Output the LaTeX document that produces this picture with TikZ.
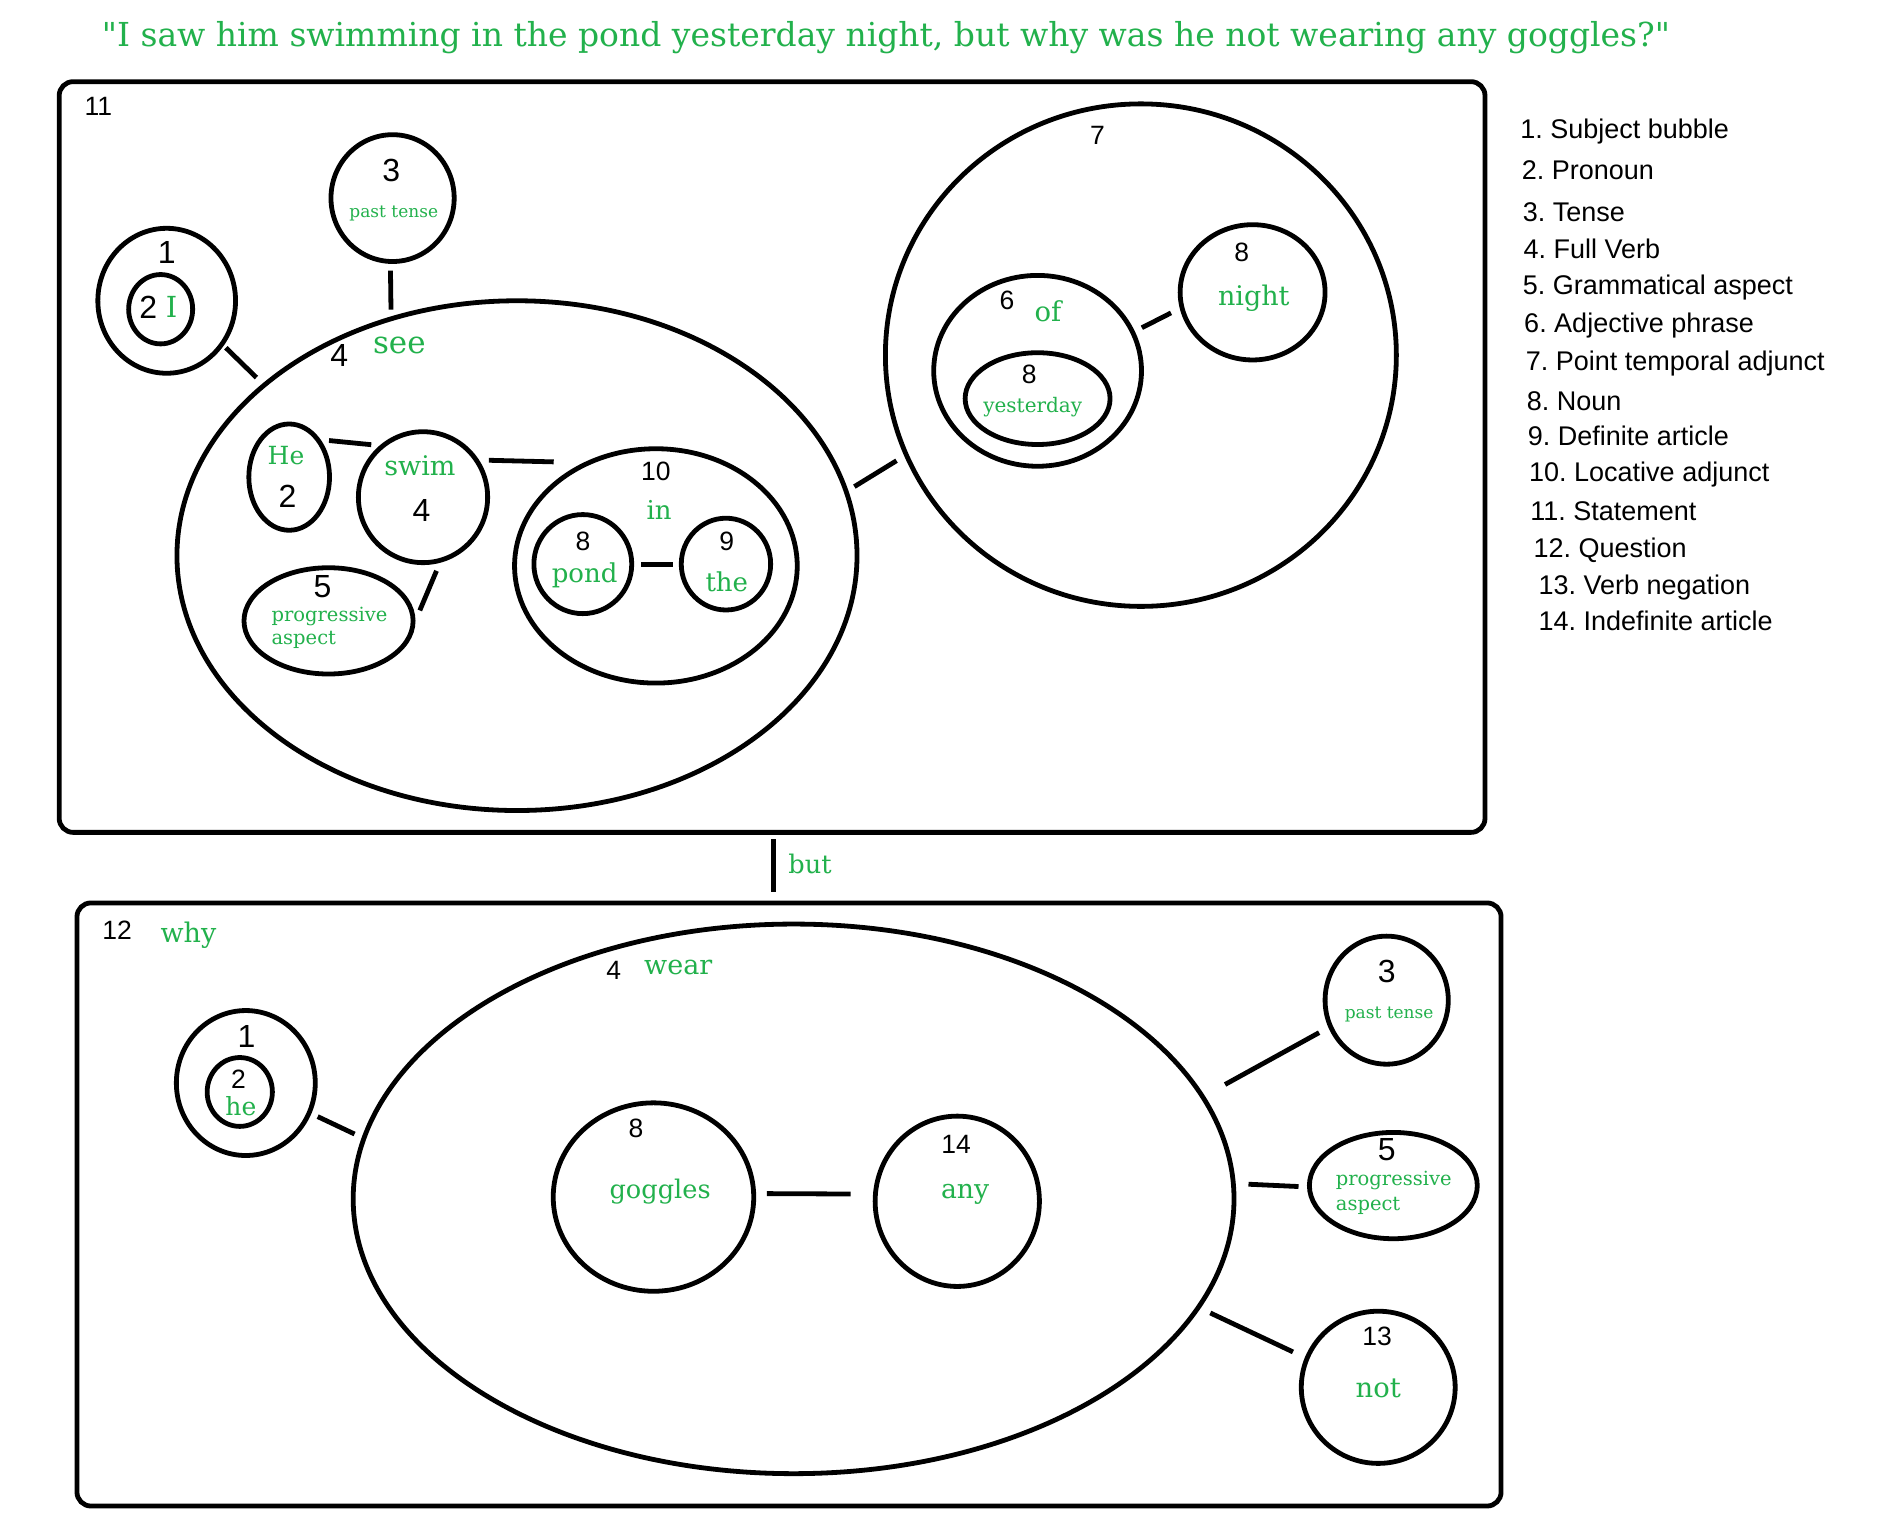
\documentclass[tikz,border=0pt]{standalone}
\usepackage{fontspec}
\setmainfont{DejaVu Serif}
\newfontfamily\plainserif[Ligatures=TeXOff]{DejaVu Serif}
\newfontfamily\af{Liberation Sans}
\usetikzlibrary{shapes.geometric}
\definecolor{pgreen}{RGB}{34,177,76}
\frenchspacing
\tikzset{
  bub/.style 2 args={draw, ellipse, line width=4.8pt, inner sep=0pt, outer sep=0pt, minimum width={#1*2.4158pt}, minimum height={#2*2.4158pt}},
  boxframe/.style 2 args={draw, rectangle, rounded corners=14pt, line width=4.8pt, inner sep=0pt, outer sep=0pt, minimum width={#1*1.2079pt}, minimum height={#2*1.2079pt}},
  cn/.style={line width=4.8pt},
  num/.style={inner sep=0pt, font=\af\fontsize{26.5}{30}\selectfont},
  bignum/.style={inner sep=0pt, font=\af\fontsize{32}{36}\selectfont},
  gw/.style={inner sep=0pt, text=pgreen, font=\fontsize{#1}{#1}\selectfont},
  leg/.style={inner sep=0pt, anchor=base west, font=\af\fontsize{27}{30}\selectfont},
}
\begin{document}
\begin{tikzpicture}[x=1.2079pt, y=-1.2079pt]
\fill[white] (0,0) rectangle (1568,1260);
\path[use as bounding box] (0,0) rectangle (1568,1260);

\node[gw=33, anchor=base] (title) at (733.5,38.6) {\plainserif "I saw him swimming in the pond yesterday night, but why was he not wearing any goggles?"};

% frames
\node[boxframe={1180.4}{621.5}] (topbox) at (639.2,378.35) {};
\node[boxframe={1179}{499.3}] (botbox) at (653.2,997.15) {};

% top bubbles
\node[bub={57}{60}] (sub1o) at (138,249) {};
\node[bub={26.5}{28.7}] (sub1i) at (133,256) {};
\node[bub={51}{52.5}] (tense1) at (325,164) {};
\node[bub={281.5}{211}] (see) at (428,460) {};
\node[bub={33.4}{44}] (he1) at (239.4,395) {};
\node[bub={53.5}{54.2}] (swim) at (350.2,411.6) {};
\node[bub={70}{44}] (prog1) at (272,514) {};
\node[bub={117}{97}] (loc) at (543,468.5) {};
\node[bub={40.5}{41}] (pond) at (482.5,467) {};
\node[bub={37}{38}] (the) at (601,467) {};
\node[bub={211.5}{208}] (temp7) at (944.5,294) {};
\node[bub={86}{79}] (adj6) at (859,307) {};
\node[bub={60}{38}] (yest) at (859,330) {};
\node[bub={60}{56}] (night) at (1037,242) {};

% bottom bubbles
\node[bub={57.5}{60}] (sub2o) at (203.5,896.6) {};
\node[bub={27}{28.5}] (sub2i) at (198.5,904) {};
\node[bub={364.6}{227.5}] (wear) at (657,992.5) {};
\node[bub={83}{78}] (gog) at (541,991) {};
\node[bub={68}{70.5}] (any) at (792.5,994.5) {};
\node[bub={51}{53}] (tense2) at (1148,828) {};
\node[bub={69.5}{44}] (prog2) at (1153.5,981.5) {};
\node[bub={63.7}{63}] (neg) at (1141,1148.5) {};

% connectors
\draw[cn, shorten <=5.4pt, shorten >=10.9pt] (sub1o.-38) -- (see.146);
\draw[cn, shorten <=9.1pt, shorten >=9.2pt] (tense1.268) -- (see.118);
\draw[cn, shorten <=11.5pt, shorten >=11.7pt] (he1.53) -- (swim.128);
\draw[cn, shorten <=12.7pt, shorten >=35.2pt] (swim.35) -- (loc.123);
\draw[cn, shorten <=11.7pt, shorten >=19.3pt] (swim.286) -- (prog1.-5);
\draw[cn, shorten <=9.3pt, shorten >=8.5pt] (pond.east) -- (the.west);
\draw[cn, shorten <=9.7pt, shorten >=11.5pt] (see.11) -- (temp7.203);
\draw[cn, shorten <=10.3pt, shorten >=12.3pt] (adj6.22) -- (night.192);
\draw[cn, shorten <=9.4pt, shorten >=10.4pt] (sub2o.-25) -- (wear.172);
\draw[cn, shorten <=13.3pt, shorten >=24.8pt] (gog.2) -- (any.175);
\draw[cn, shorten <=25.7pt, shorten >=13pt] (wear.14) -- (tense2.205);
\draw[cn, shorten <=15.2pt, shorten >=10.9pt] (wear.2) -- (prog2.181);
\draw[cn, shorten <=13.3pt, shorten >=15.5pt] (wear.-15) -- (neg.158);
\coordinate (butx) at (640.2,700);
\draw[cn, shorten <=6.9pt, shorten >=10.8pt] (topbox.south -| butx) -- (botbox.north -| butx);
\node[gw=25.6] (but) at (670.6,715.3) {but};

% top labels
\node[num] (n11) at (81.4,87.8) {11};
\node[bignum] (t1a) at (138,209) {1};
\node[bignum] (t2a) at (122.8,254.3) {2};
\node[gw=29] (wI) at (142,254.3) {I};
\node[bignum] (t3a) at (324,141) {3};
\node[gw=17] (wpt1) at (326,176.5) {past tense};
\node[bignum] (t4a) at (280.8,294) {4};
\node[gw=31] (wsee) at (330.6,285.6) {see};
\node[gw=25] (wHe) at (236.8,377.5) {He};
\node[bignum] (t2b) at (238,411) {2};
\node[gw=27] (wswim) at (347.7,385.8) {swim};
\node[bignum] (t4b) at (349,423) {4};
\node[bignum] (t5a) at (267,485.7) {5};
\node[gw=19.5, anchor=west] (wpr1) at (224.7,510) {progressive};
\node[gw=19.5, anchor=west] (was1) at (224.7,530) {aspect};
\node[num] (t10) at (543,390.5) {10};
\node[gw=26] (win) at (545.6,422) {in};
\node[num] (t8a) at (482.7,448.5) {8};
\node[gw=26] (wpond) at (484,476) {pond};
\node[num] (t9) at (601.7,448.5) {9};
\node[gw=26] (wthe) at (601.7,481.6) {the};
\node[num] (t7) at (908.6,112) {7};
\node[num] (t6) at (833.7,248.8) {6};
\node[gw=27.5] (wof) at (867.6,258) {of};
\node[num] (t8b) at (852,310) {8};
\node[gw=20] (wyest) at (855,337) {yesterday};
\node[num] (t8c) at (1028,209) {8};
\node[gw=27] (wnight) at (1038,246.5) {night};

% bottom labels
\node[num] (n12) at (96.9,770) {12};
\node[gw=27] (wwhy) at (156,774) {why};
\node[bignum] (b1) at (204,857.7) {1};
\node[num] (b2) at (197.5,893.5) {2};
\node[gw=25] (whe) at (199.4,916) {he};
\node[num] (b4) at (508,803.6) {4};
\node[gw=27] (wwear) at (561.5,800.6) {wear};
\node[num] (b8) at (526.5,934) {8};
\node[gw=25.6] (wgog) at (546.5,986.6) {goggles};
\node[num] (b14) at (791.5,947) {14};
\node[gw=26.7] (wany) at (799,989) {any};
\node[bignum] (b3) at (1148,804) {3};
\node[gw=17] (wpt2) at (1150,840) {past tense};
\node[bignum] (b5) at (1148,952) {5};
\node[gw=19.5, anchor=west] (wpr2) at (1105.8,977) {progressive};
\node[gw=19.5, anchor=west] (was2) at (1105.8,998.5) {aspect};
\node[num] (b13) at (1140,1106) {13};
\node[gw=27.4] (wnot) at (1141,1149) {not};

% legend
\node[leg] (l1) at (1258.4,114.4) {1. Subject bubble};
\node[leg] (l2) at (1259.8,149.0) {2. Pronoun};
\node[leg] (l3) at (1260.6,183.0) {3. Tense};
\node[leg] (l4) at (1261.1,214.1) {4. Full Verb};
\node[leg] (l5) at (1260.6,243.6) {5. Grammatical aspect};
\node[leg] (l6) at (1261.7,275.6) {6. Adjective phrase};
\node[leg] (l7) at (1263.1,306.6) {7. Point temporal adjunct};
\node[leg] (l8) at (1263.9,339.8) {8. Noun};
\node[leg] (l9) at (1264.7,368.7) {9. Definite article};
\node[leg] (l10) at (1265.8,398.3) {10. Locative adjunct};
\node[leg] (l11) at (1266.7,430.8) {11. Statement};
\node[leg] (l12) at (1269.4,461.9) {12. Question};
\node[leg] (l13) at (1273.6,492.0) {13. Verb negation};
\node[leg] (l14) at (1273.6,521.6) {14. Indefinite article};
\end{tikzpicture}
\end{document}
